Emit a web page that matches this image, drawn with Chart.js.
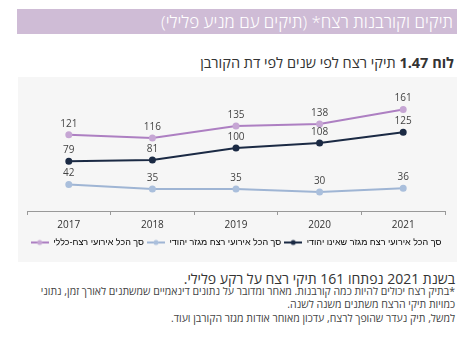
<!DOCTYPE html>
<html lang="he">
<head>
<meta charset="utf-8">
<script src="https://cdn.jsdelivr.net/npm/chart.js@4.4.1/dist/chart.umd.min.js"></script>
<style>
  body { margin: 0; width: 474px; height: 351px; background: #fff; position: relative; overflow: hidden;
         font-family: "Open Sans", "Liberation Sans", "DejaVu Sans", sans-serif; }
  .band { position: absolute; left: 17px; top: 9px; width: 440px; height: 25px; background: #cfbcd6;
          color: #fff; font-size: 17px; line-height: 25px; direction: rtl; text-align: right;
          padding-right: 4px; box-sizing: border-box; font-weight: 300; }
  .title { position: absolute; right: 20px; top: 53px; direction: rtl; font-size: 14.5px; color: #333; }
  .title b { font-weight: 700; }
  .box { position: absolute; left: 18px; top: 77px; width: 439px; height: 185px; background: #f6f6f6; }
  .lead { position: absolute; right: 19px; top: 269px; direction: rtl; font-size: 14px; color: #333; }
  .note { position: absolute; right: 19px; left: 16px; top: 285px; direction: rtl; font-size: 10.5px;
          line-height: 13.3px; color: #444; text-align: right; }
  .note p { margin: 0; }
</style>
</head>
<body>
<div class="band">תיקים וקורבנות רצח* (תיקים עם מניע פלילי)</div>
<div class="title"><b>לוח 1.47</b> תיקי רצח לפי שנים לפי דת הקורבן</div>
<div class="box"><canvas id="chart" width="439" height="185"></canvas></div>
<div class="lead">בשנת 2021 נפתחו 161 תיקי רצח על רקע פלילי.</div>
<div class="note">
  <p>*בתיק רצח יכולים להיות כמה קורבנות. מאחר ומדובר על נתונים דינאמיים שמשתנים לאורך זמן, נתוני כמויות תיקי הרצח משתנים משנה לשנה.</p>
  <p>למשל, תיק נעדר שהופך לרצח, עדכון מאוחר אודות מגזר הקורבן ועוד.</p>
</div>
<script>
// Data
const YEARS = ['2017', '2018', '2019', '2020', '2021'];
const TOTAL = [121, 116, 135, 138, 161];
const JEWISH = [42, 35, 35, 30, 36];
const NON_JEWISH = [79, 81, 100, 108, 125];

const SERIES_NAMES = [
  'סך הכל אירועי רצח-כללי',
  'סך הכל אירועי רצח מגזר יהודי',
  'סך הכל אירועי רצח מגזר שאינו יהודי'
];
const COLORS = ['#ad7fc2', '#9fb5d4', '#1b2a44'];
const POINT_COLORS = ['#c6a6d4', '#aabfdc', '#1b2a44'];
const FONT = '"Open Sans", "Liberation Sans", sans-serif';

/**
 * Small canvas with a line + dot, used as legend symbol
 */
function legendSymbol(i) {
  const c = document.createElement('canvas');
  c.width = 18; c.height = 8;
  const g = c.getContext('2d');
  g.strokeStyle = COLORS[i];
  g.lineWidth = 2;
  g.beginPath(); g.moveTo(0, 4); g.lineTo(18, 4); g.stroke();
  g.fillStyle = POINT_COLORS[i];
  g.beginPath(); g.arc(9, 4, 2.5, 0, Math.PI * 2); g.fill();
  return c;
}

// value labels above each point
const valueLabels = {
  id: 'valueLabels',
  afterDatasetsDraw(chart) {
    const ctx = chart.ctx;
    ctx.save();
    ctx.font = '10px ' + FONT;
    ctx.fillStyle = '#444';
    ctx.textAlign = 'center';
    ctx.textBaseline = 'middle';
    chart.data.datasets.forEach((ds, i) => {
      chart.getDatasetMeta(i).data.forEach((pt, j) => {
        ctx.fillText(ds.data[j], pt.x, pt.y - 11);
      });
    });
    ctx.restore();
  }
};

const seriesData = [TOTAL, JEWISH, NON_JEWISH];

new Chart(document.getElementById('chart'), {
  type: 'line',
  data: {
    labels: YEARS,
    datasets: seriesData.map((d, i) => ({
      label: SERIES_NAMES[i],
      data: d,
      borderColor: COLORS[i],
      backgroundColor: POINT_COLORS[i],
      pointBorderColor: POINT_COLORS[i],
      borderWidth: 2,
      pointRadius: 2.5,
      pointHoverRadius: 2.5,
      tension: 0,
      fill: false
    }))
  },
  options: {
    responsive: false,
    animation: false,
    layout: { padding: { left: 9, right: 12, top: 8, bottom: 5 } },
    plugins: {
      tooltip: { enabled: false },
      legend: {
        position: 'bottom',
        labels: {
          usePointStyle: true,
          pointStyleWidth: 18,
          boxHeight: 8,
          padding: 3,
          color: '#333',
          font: { size: 9, family: '"Liberation Sans", "DejaVu Sans", sans-serif' },
          generateLabels(chart) {
            return chart.data.datasets.map((ds, i) => ({
              text: ds.label,
              pointStyle: legendSymbol(i),
              fillStyle: COLORS[i],
              strokeStyle: COLORS[i],
              lineWidth: 0,
              datasetIndex: i,
              hidden: false
            }));
          }
        }
      }
    },
    scales: {
      x: {
        offset: true,
        grid: { offset: true, drawOnChartArea: false, drawTicks: true, tickLength: 4, color: '#999' },
        border: { display: true, color: '#999' },
        ticks: { color: '#333', padding: 4, font: { size: 10, family: FONT } }
      },
      y: {
        display: false,
        min: 0,
        max: 200
      }
    }
  },
  plugins: [valueLabels]
});
</script>
</body>
</html>
